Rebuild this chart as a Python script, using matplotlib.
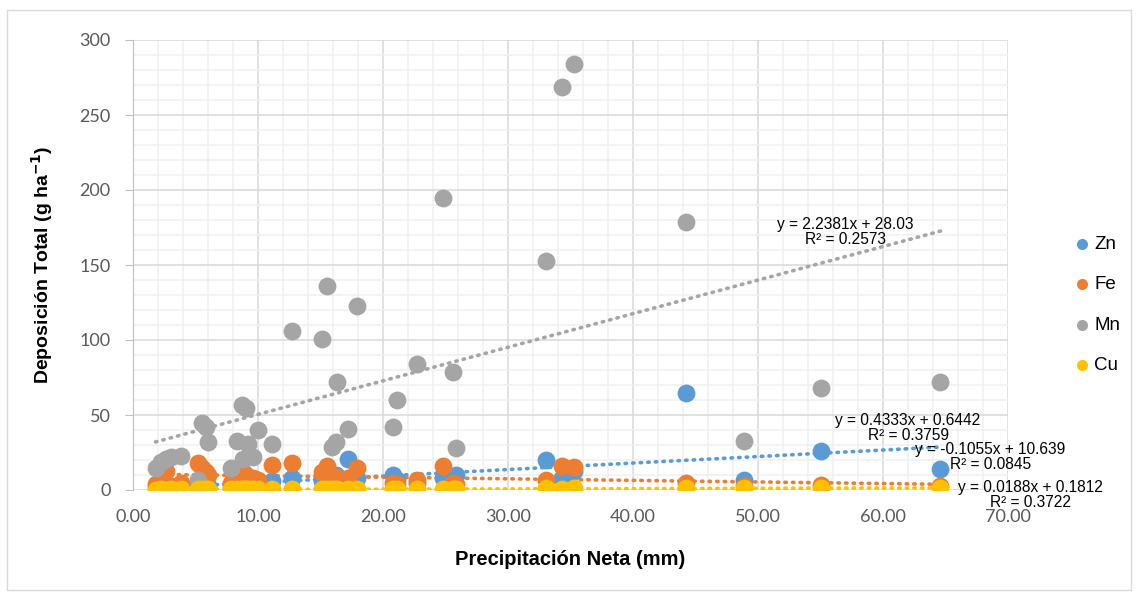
#!/usr/bin/env python3
"""Deposición total de Zn, Fe, Mn y Cu vs precipitación neta -> out.png"""
import matplotlib

matplotlib.use("Agg")
import matplotlib.pyplot as plt  # noqa: E402
from matplotlib.patches import Rectangle  # noqa: E402
from matplotlib.ticker import MultipleLocator, FormatStrFormatter  # noqa: E402
import numpy as np  # noqa: E402

# precipitación neta (mm), una columna por evento
precip = [1.8, 2.2, 2.6, 3.0, 3.8, 5.2, 5.5, 5.8, 6.0, 7.8, 8.3, 8.7, 8.8, 9.0,
          9.2, 9.6, 10.0, 11.1, 12.7, 15.1, 15.5, 15.9, 16.2, 16.3, 17.2, 17.9,
          20.8, 21.1, 22.7, 24.8, 25.6, 25.8, 33.0, 34.3, 35.3, 44.2, 48.9,
          55.0, 64.6]
zn = [2, 1, 2, 1, 2, 4, 3, 2, 3, 2, 3, 2, 4, 3,
      2, 3, 4, 6, 8, 6, 5, 7, 10, 5, 21, 8,
      10, 7, 5, 8, 6, 10, 20, 8, 13, 65, 7,
      26, 14]
fe = [4, 2, 13, 3, 5, 18, 15, 12, 10, 5, 11, 8, 12, 10,
      9, 8, 7, 17, 18, 12, 16, 8, 9, 6, 8, 15,
      5, 4, 7, 16, 5, 4, 7, 16, 15.5, 5, 3,
      3.5, 3]
mn = [15, 19, 21, 22, 23, 7, 45, 42, 32, 15, 33, 57, 21, 55,
      31, 22, 40, 31, 106, 101, 136, 29, 32, 72, 41, 123,
      42, 60, 84, 195, 79, 28, 153, 269, 284, 179, 33,
      68, 72]
cu = [0.3, 0.4, 0.3, 0.5, 0.4, 0.6, 0.5, 0.4, 0.5, 0.4, 0.6, 0.5, 0.4, 0.5,
      0.5, 0.6, 0.4, 0.5, 0.6, 0.7, 0.6, 0.5, 0.7, 0.6, 0.8, 0.6,
      0.8, 0.7, 0.9, 0.8, 0.9, 1.0, 1.2, 0.9, 1.1, 1.3, 1.1,
      1.2, 1.3]

series = ["Zn", "Fe", "Mn", "Cu"]
colors = ["#5B9BD5", "#ED7D31", "#A5A5A5", "#FFC000"]
# tendencias lineales (pendiente, intercepto, R²) tal como las muestra el gráfico
slopes = [0.4333, -0.1055, 2.2381, 0.0188]
intercepts = [0.6442, 10.639, 28.03, 0.1812]
r2 = [0.3759, 0.0845, 0.2573, 0.3722]
eq_pos = [(62.0, 41), (68.6, 22), (57.0, 172), (71.8, -3.5)]

fig = plt.figure(figsize=(11.39, 5.94), dpi=100)
fig.patches.append(Rectangle((7 / 1139, 4 / 594), 1124 / 1139, 580 / 594,
                             transform=fig.transFigure, fill=False,
                             edgecolor="#D9D9D9", lw=1))
ax = fig.add_axes([133 / 1139, 1 - 490 / 594, 875 / 1139, 450 / 594])

x = np.array(precip)
for name, vals, c in zip(series, [zn, fe, mn, cu], colors):
    ax.scatter(x, vals, s=165, color=c, label=name, zorder=3, linewidths=0)

xl = np.array([x.min(), x.max()])
for c, m, b, r, (tx, ty) in zip(colors, slopes, intercepts, r2, eq_pos):
    ax.plot(xl, m * xl + b, color=c, lw=2.6, linestyle=(0, (0.4, 1.7)),
            dash_capstyle="round", zorder=2)
    sign = "-" if b < 0 else "+"
    ax.text(tx, ty, f"y = {m}x {sign} {abs(b)}\nR² = {r}", ha="center",
            va="center", multialignment="center", fontsize=11.2,
            family="Liberation Sans", color="#000000", linespacing=1.0,
            clip_on=False, zorder=4)

ax.set_xlim(0, 70)
ax.set_ylim(0, 300)
ax.xaxis.set_major_locator(MultipleLocator(10))
ax.xaxis.set_minor_locator(MultipleLocator(2))
ax.yaxis.set_major_locator(MultipleLocator(50))
ax.yaxis.set_minor_locator(MultipleLocator(10))
ax.xaxis.set_major_formatter(FormatStrFormatter("%.2f"))
ax.grid(which="major", color="#D9D9D9", lw=1.1, zorder=0)
ax.grid(which="minor", color="#F0F0F0", lw=1.1, zorder=0)
ax.set_axisbelow(True)
for s in ["top", "right", "bottom"]:
    ax.spines[s].set_visible(False)
ax.spines["left"].set_color("#BFBFBF")
ax.tick_params(axis="y", which="major", length=6, color="#BFBFBF", pad=10,
               labelsize=13, labelcolor="#595959")
ax.tick_params(axis="x", which="major", length=0, pad=14,
               labelsize=13, labelcolor="#595959")
ax.tick_params(which="minor", length=0)
for lab in ax.get_xticklabels() + ax.get_yticklabels():
    lab.set_family("Lato")

ax.set_xlabel("Precipitación Neta (mm)", fontsize=14.5, fontweight="bold",
              family="Liberation Sans", labelpad=18)
ax.set_ylabel(r"Deposición Total (g ha$^{\mathbf{-1}}$)", fontsize=14,
              fontweight="bold", family="Liberation Sans", labelpad=18)

fig.legend(loc="center left", bbox_to_anchor=(1056 / 1139, 1 - 305 / 594),
           frameon=False, prop={"family": "Liberation Sans", "size": 13.5},
           markerscale=0.62, handletextpad=0.15, labelspacing=1.25,
           handlelength=1.0)

fig.savefig("out.png", dpi=100)
